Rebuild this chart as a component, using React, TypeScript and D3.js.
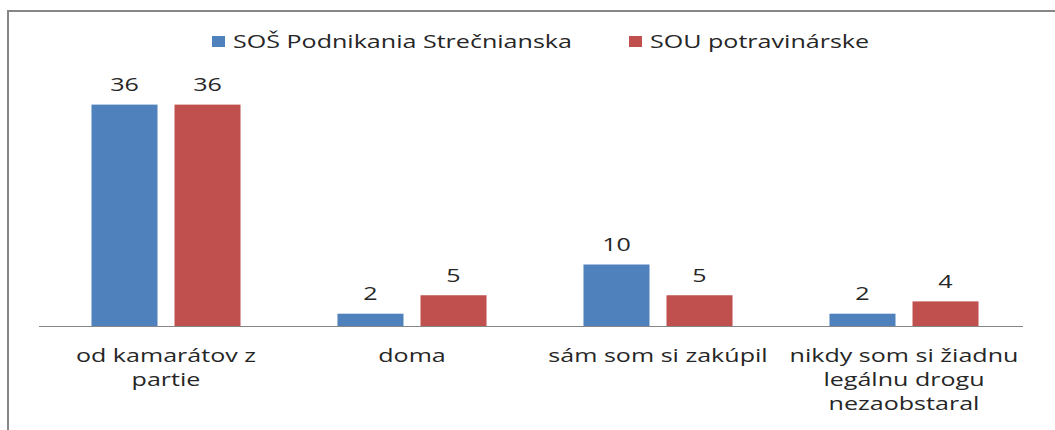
import React from "react";
import * as d3 from "d3";

const categories: string[][] = [
  ["od kamarátov z", "partie"],
  ["doma"],
  ["sám som si zakúpil"],
  ["nikdy som si žiadnu", "legálnu drogu", "nezaobstaral"],
];
const seriesNames = ["SOŠ Podnikania Strečnianska", "SOU potravinárske"];
const sosValues = [36, 2, 10, 2];
const souValues = [36, 5, 5, 4];
const colors = ["#4F81BD", "#C0504D"];

const W = 1055;
const H = 430;
const SX = 1.32;
const FONT = "'Open Sans', sans-serif";
const FS = 19;
const TXT = "#262626";

function T({ x, y, children, anchor = "middle" }: { x: number; y: number; children: React.ReactNode; anchor?: string }) {
  return (
    <text
      transform={`translate(${x},${y}) scale(${SX},1)`}
      textAnchor={anchor as any}
      fontFamily={FONT}
      fontSize={FS}
      fill={TXT}
    >
      {children}
    </text>
  );
}

export default function App() {
  const keys = categories.map((c) => c.join(" "));
  const x0 = d3.scaleBand<string>().domain(keys).range([43, 1027]);
  const x1 = d3
    .scaleBand<string>()
    .domain(seriesNames)
    .range([0, x0.bandwidth()])
    .paddingInner(17 / 83)
    .paddingOuter(0.584);
  const y = d3.scaleLinear().domain([0, 40]).range([326, 80]);
  const data = [sosValues, souValues];
  const [xa, xb] = x0.range();

  const legendX = [212, 629];

  return (
    <svg
      width={W}
      height={H}
      style={{ position: "fixed", left: 0, top: 0, display: "block", background: "#fff" }}
    >
      <rect x={0} y={0} width={W} height={H} fill="#fff" />
      <rect x={8} y={11} width={W + 20} height={H + 20} fill="none" stroke="#868686" strokeWidth={2} />
      {/* legend */}
      {seriesNames.map((s, i) => (
        <g key={s}>
          <rect x={legendX[i]} y={36} width={13} height={11} fill={colors[i]} />
          <T x={legendX[i] + 21} y={48} anchor="start">
            {s}
          </T>
        </g>
      ))}
      {/* bars */}
      {keys.map((k, ci) => (
        <g key={k}>
          {seriesNames.map((s, si) => {
            const v = data[si][ci];
            const bx = (x0(k) as number) + (x1(s) as number);
            return (
              <g key={s}>
                <rect x={bx} y={y(v)} width={x1.bandwidth()} height={y(0) - y(v)} fill={colors[si]} />
                <T x={bx + x1.bandwidth() / 2} y={y(v) - 13.5}>
                  {v}
                </T>
              </g>
            );
          })}
        </g>
      ))}
      {/* axis */}
      <line x1={xa - 4} x2={xb - 4} y1={y(0) + 0.5} y2={y(0) + 0.5} stroke="#868686" strokeWidth={1} />
      {categories.map((lines, ci) => (
        <g key={ci}>
          {lines.map((ln, li) => (
            <T key={li} x={(x0(keys[ci]) as number) + x0.bandwidth() / 2} y={362 + li * 24}>
              {ln}
            </T>
          ))}
        </g>
      ))}
    </svg>
  );
}
